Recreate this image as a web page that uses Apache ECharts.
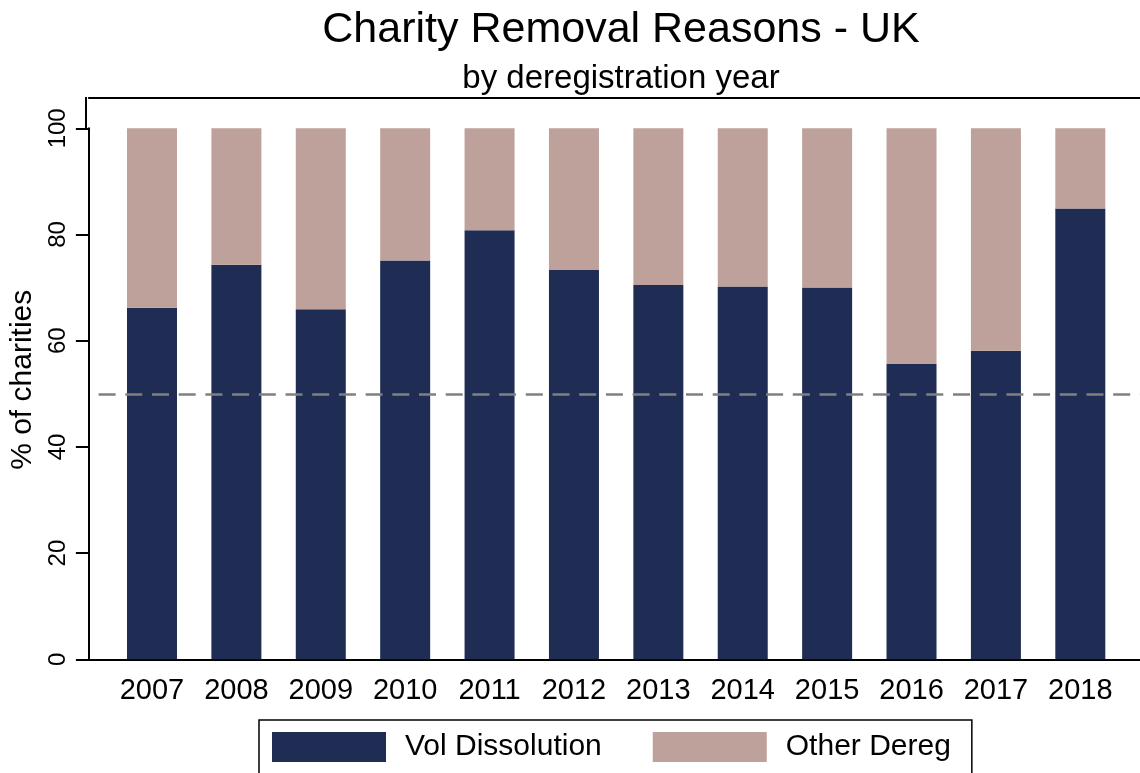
<!DOCTYPE html>
<html>
<head>
<meta charset="utf-8">
<script src="https://cdn.jsdelivr.net/npm/echarts@6/dist/echarts.min.js"></script>
<style>html,body{margin:0;padding:0;background:#fff;}#c{width:1140px;height:773px;}</style>
</head>
<body>
<div id="c"></div>
<script>
var years = ['2007','2008','2009','2010','2011','2012','2013','2014','2015','2016','2017','2018'];
var volDissolution = [66.2, 74.3, 65.9, 75.1, 80.8, 73.3, 70.5, 70.2, 70.0, 55.6, 58.1, 84.9];
var otherDereg = [33.8, 25.7, 34.1, 24.9, 19.2, 26.7, 29.5, 29.8, 30.0, 44.4, 41.9, 15.1];
var yTicks = [0, 20, 40, 60, 80, 100];
var refValue = 50;

var FONT = "'Liberation Sans', Arial, sans-serif";
var chart = echarts.init(document.getElementById('c'));
chart.setOption({
  backgroundColor: '#fff',
  animation: false,
  textStyle: {fontFamily: FONT},
  title: [
    {text: 'Charity Removal Reasons - UK', left: 616, top: 4, textAlign: 'center',
     textStyle: {fontFamily: FONT, fontSize: 43, fontWeight: 'normal', color: '#000'}},
    {text: 'by deregistration year', left: 616, top: 57, textAlign: 'center',
     textStyle: {fontFamily: FONT, fontSize: 33, fontWeight: 'normal', color: '#000'}}
  ],
  graphic: [
    {type: 'line', silent: true, shape: {x1: 86, y1: 97, x2: 86, y2: 129},
     style: {stroke: '#000', lineWidth: 2}}
  ],
  legend: {
    left: 259, top: 720,
    padding: [12, 21, 20, 13],
    borderColor: '#000', borderWidth: 1.5,
    itemWidth: 114, itemHeight: 30, itemGap: 51,
    icon: 'rect',
    textStyle: {fontFamily: FONT, fontSize: 30, color: '#000', padding: [0, 0, 0, 14]},
    data: ['Vol Dissolution', 'Other Dereg']
  },
  grid: [
    {left: 86, right: -10, top: 128.3, bottom: 113.7},
    {left: 109.8, right: 17.5, top: 128.3, bottom: 113.7}
  ],
  xAxis: [
    {type: 'value', gridIndex: 0, min: 0, max: 1,
     axisLine: {show: true, lineStyle: {color: '#000', width: 2}},
     axisTick: {show: false}, axisLabel: {show: false}, splitLine: {show: false}},
    {type: 'value', gridIndex: 0, min: 0, max: 1, position: 'top', offset: 30.3,
     axisLine: {show: true, onZero: false, lineStyle: {color: '#000', width: 2}},
     axisTick: {show: false}, axisLabel: {show: false}, splitLine: {show: false}},
    {type: 'category', gridIndex: 1, data: years,
     axisLine: {show: false}, axisTick: {show: false},
     axisLabel: {fontFamily: FONT, fontSize: 29, color: '#000', margin: 17}}
  ],
  yAxis: [
    {type: 'value', gridIndex: 0, min: 0, max: 100, interval: 20,
     name: '% of charities', nameLocation: 'middle', nameGap: 46,
     nameTextStyle: {fontFamily: FONT, fontSize: 30, color: '#000', padding: [0, 0, 0, 28]},
     axisLine: {show: true, lineStyle: {color: '#000', width: 2}},
     axisTick: {show: true, length: 13, lineStyle: {color: '#000', width: 2}},
     axisLabel: {rotate: 90, fontFamily: FONT, fontSize: 24, color: '#000', margin: 19},
     splitLine: {show: false}},
    {type: 'value', gridIndex: 1, min: 0, max: 100, show: false}
  ],
  series: [
    {type: 'line', xAxisIndex: 0, yAxisIndex: 0, data: [], silent: true, z: 1,
     markLine: {silent: true, symbol: 'none', label: {show: false},
       lineStyle: {color: '#808080', width: 2.5, type: [17, 9.7], dashOffset: 17},
       data: [{yAxis: refValue}]}},
    {name: 'Vol Dissolution', type: 'bar', stack: 'a', xAxisIndex: 2, yAxisIndex: 1,
     data: volDissolution, barWidth: 50, z: 3,
     itemStyle: {color: '#1f2d55'}},
    {name: 'Other Dereg', type: 'bar', stack: 'a', xAxisIndex: 2, yAxisIndex: 1,
     data: otherDereg, barWidth: 50, z: 3,
     itemStyle: {color: '#bea19a'}}
  ]
});
</script>
</body>
</html>
